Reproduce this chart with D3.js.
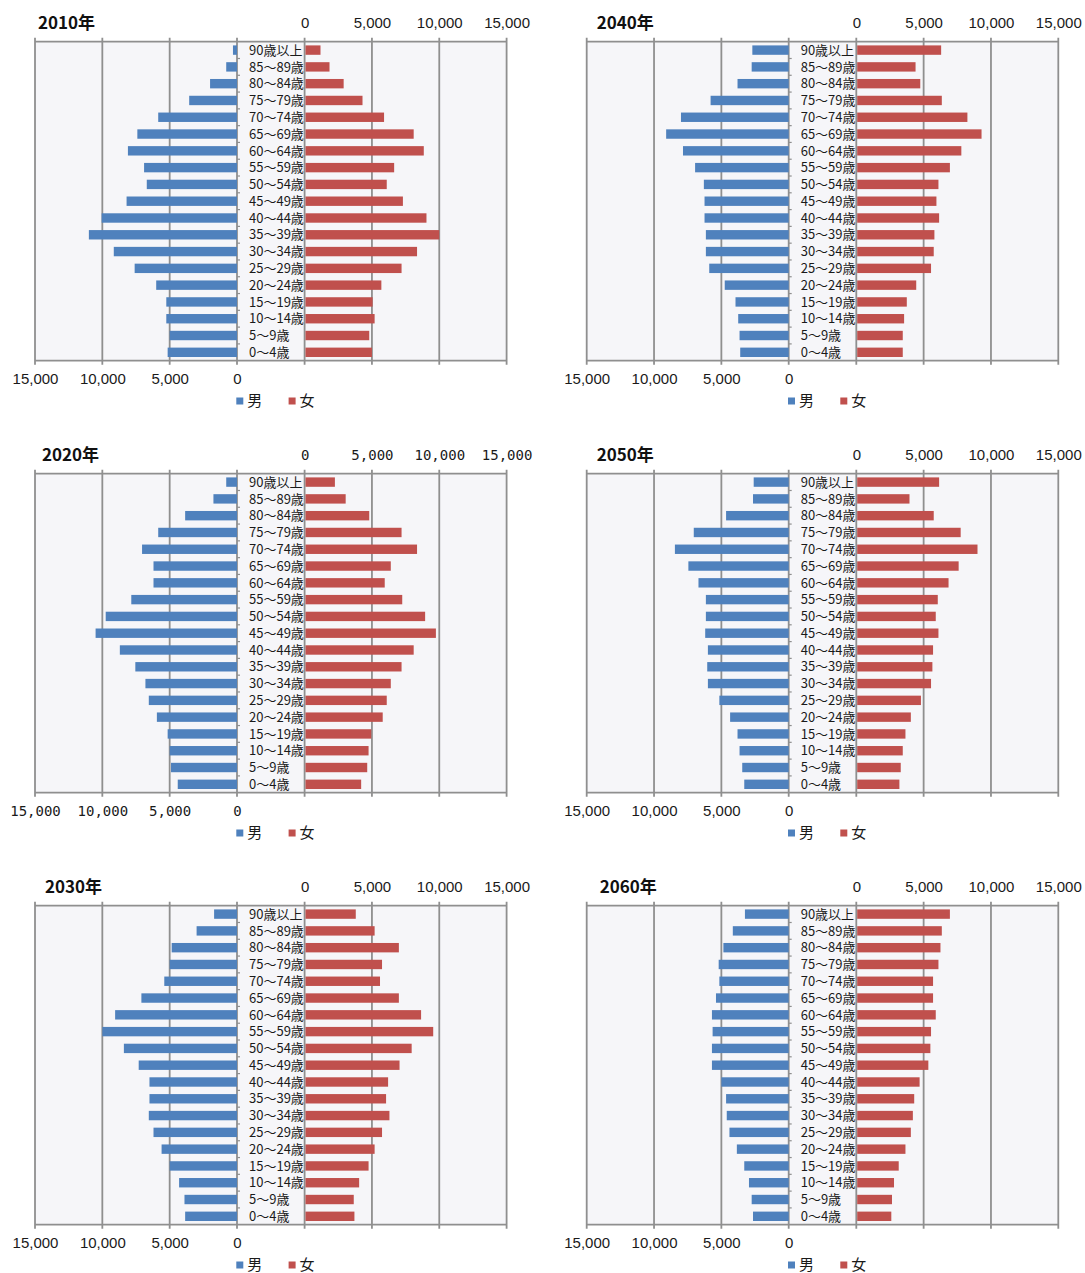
<!DOCTYPE html>
<html>
<head>
<meta charset="utf-8">
<script src="https://cdn.jsdelivr.net/npm/d3@7"></script>
<style>
    body { margin: 0; background: #fff; }
</style>
</head>
<body>
<svg id="chart"></svg>
<script>
let width = 1085
let height = 1273

// age groups, top to bottom
let ages = ["90歳以上", "85～89歳", "80～84歳", "75～79歳", "70～74歳", "65～69歳", "60～64歳",
    "55～59歳", "50～54歳", "45～49歳", "40～44歳", "35～39歳", "30～34歳", "25～29歳",
    "20～24歳", "15～19歳", "10～14歳", "5～9歳", "0～4歳"]

let years = ["2010年", "2020年", "2030年", "2040年", "2050年", "2060年"]
let tickValues = [0, 5000, 10000, 15000]
let legendLabels = ["男", "女"]

let male2010 = [300, 800, 2000, 3550, 5850, 7400, 8100, 6900, 6700, 8200, 10050, 11000, 9150, 7600, 6000, 5250, 5250, 5000, 5150]
let female2010 = [1180, 1850, 2900, 4300, 5900, 8100, 8850, 6650, 6100, 7300, 9050, 10000, 8350, 7200, 5700, 5050, 5200, 4800, 5000]

let male2020 = [800, 1750, 3850, 5850, 7050, 6200, 6200, 7850, 9750, 10500, 8700, 7550, 6800, 6550, 5950, 5150, 5000, 4900, 4400]
let female2020 = [2250, 3050, 4800, 7200, 8350, 6400, 5950, 7250, 8950, 9750, 8100, 7200, 6400, 6100, 5800, 4950, 4750, 4650, 4200]

let male2030 = [1700, 3000, 4850, 5000, 5400, 7100, 9050, 10000, 8400, 7300, 6500, 6500, 6550, 6200, 5600, 5000, 4300, 3900, 3850]
let female2030 = [3800, 5200, 7000, 5750, 5600, 7000, 8650, 9550, 7950, 7050, 6200, 6050, 6300, 5750, 5200, 4750, 4050, 3650, 3700]

let male2040 = [2700, 2750, 3800, 5800, 8000, 9100, 7850, 6950, 6300, 6250, 6250, 6150, 6150, 5900, 4750, 3950, 3750, 3650, 3600]
let female2040 = [6300, 4400, 4750, 6350, 8250, 9300, 7800, 6950, 6100, 5950, 6150, 5800, 5750, 5550, 4450, 3750, 3550, 3450, 3450]

let male2050 = [2600, 2650, 4650, 7050, 8450, 7450, 6700, 6150, 6150, 6200, 6000, 6050, 6000, 5150, 4350, 3800, 3650, 3450, 3300]
let female2050 = [6150, 3950, 5750, 7750, 9000, 7600, 6850, 6050, 5900, 6100, 5700, 5650, 5550, 4800, 4050, 3650, 3450, 3300, 3200]

let male2060 = [3250, 4150, 4850, 5200, 5150, 5400, 5700, 5650, 5700, 5700, 5000, 4650, 4600, 4400, 3850, 3300, 2950, 2750, 2650]
let female2060 = [6950, 6350, 6250, 6100, 5700, 5700, 5900, 5550, 5500, 5350, 4700, 4300, 4200, 4050, 3650, 3150, 2800, 2650, 2600]

let maleSeries = [male2010, male2020, male2030, male2040, male2050, male2060]
let femaleSeries = [female2010, female2020, female2030, female2040, female2050, female2060]

let colors = ["#4f81bd", "#c0504d"]
let gridColor = "#8f8f8f"

let svg = d3.select("#chart")
    .attr("width", width)
    .attr("height", height)

// panel layout
let panelLeft = [35, 586.7]
let panelTop = [41.7, 473.7, 905.7]
let titleDx = [3, 7, 10, 10, 10, 13]
let halfWidth = 202
let gap = 67.6
let plotHeight = 319

function drawPanel(i) {
    let col = i < 3 ? 0 : 1
    let row = i % 3
    let left = panelLeft[col]
    let top = panelTop[row]
    let bottom = top + plotHeight
    let male0 = left + halfWidth
    let female0 = male0 + gap
    let right = female0 + halfWidth
    let tickFont = i == 1 ? "'DejaVu Sans Mono', monospace" : "'Liberation Sans', Arial, sans-serif"
    let tickSize = i == 1 ? "14px" : "15px"

    let xMale = d3.scaleLinear().domain([0, 15000]).range([male0, left])
    let xFemale = d3.scaleLinear().domain([0, 15000]).range([female0, right])
    let y = d3.scaleBand().domain(ages).range([top, bottom]).paddingInner(0.44).paddingOuter(0.22)

    let g = svg.append("g")

    g.append("rect")
        .attr("x", left)
        .attr("y", top)
        .attr("width", right - left)
        .attr("height", plotHeight)
        .attr("fill", "#f6f6f9")

    // vertical grid lines
    let gridX = tickValues.map(v => xMale(v)).concat(tickValues.map(v => xFemale(v)))
    g.append("g")
        .selectAll("line")
        .data(gridX)
        .enter()
        .append("line")
        .attr("x1", d => d)
        .attr("x2", d => d)
        .attr("y1", top - 4)
        .attr("y2", bottom + 4)
        .attr("stroke", gridColor)
        .attr("stroke-width", 1.8)

    // frame top / bottom
    g.append("g")
        .selectAll("line")
        .data([top, bottom])
        .enter()
        .append("line")
        .attr("x1", left)
        .attr("x2", right)
        .attr("y1", d => d)
        .attr("y2", d => d)
        .attr("stroke", gridColor)
        .attr("stroke-width", 1.8)

    // small ticks on the category axis
    let bounds = d3.range(1, ages.length).map(k => top + k * y.step())
    g.append("g")
        .selectAll("line")
        .data(bounds)
        .enter()
        .append("line")
        .attr("x1", male0)
        .attr("x2", male0 + 3)
        .attr("y1", d => d)
        .attr("y2", d => d)
        .attr("stroke", gridColor)
        .attr("stroke-width", 1.2)

    g.append("g")
        .selectAll("rect")
        .data(maleSeries[i])
        .enter()
        .append("rect")
        .attr("x", d => xMale(d))
        .attr("y", (d, k) => y(ages[k]))
        .attr("width", d => male0 - xMale(d))
        .attr("height", y.bandwidth())
        .attr("fill", colors[0])

    g.append("g")
        .selectAll("rect")
        .data(femaleSeries[i])
        .enter()
        .append("rect")
        .attr("x", female0 + 0.9)
        .attr("y", (d, k) => y(ages[k]))
        .attr("width", d => xFemale(d) - female0 - 0.9)
        .attr("height", y.bandwidth())
        .attr("fill", colors[1])

    g.append("g")
        .selectAll("text")
        .data(ages)
        .enter()
        .append("text")
        .attr("x", male0 + 12)
        .attr("y", d => y(d) + y.bandwidth() / 2)
        .attr("dy", "0.36em")
        .attr("font-family", "'Noto Sans CJK JP', sans-serif")
        .attr("font-size", "13px")
        .attr("fill", "#1a1a1a")
        .text(d => d)

    // top axis (female), bottom axis (male)
    let topAxis = g.append("g")
        .attr("transform", "translate(0," + top + ")")
        .call(d3.axisTop(xFemale).tickValues(tickValues).tickSize(0).tickFormat(d3.format(",")))
    let bottomAxis = g.append("g")
        .attr("transform", "translate(0," + bottom + ")")
        .call(d3.axisBottom(xMale).tickValues(tickValues).tickSize(0).tickFormat(d3.format(",")))
    ;[topAxis, bottomAxis].forEach(a => {
        a.select(".domain").remove()
        a.selectAll("text")
            .attr("font-family", tickFont)
            .attr("font-size", tickSize)
            .attr("fill", "#1a1a1a")
            .attr("dy", "0.36em")
    })
    topAxis.selectAll("text").attr("y", -19)
    bottomAxis.selectAll("text").attr("y", 18.3)

    g.append("text")
        .attr("x", left + titleDx[i])
        .attr("y", top - 19)
        .attr("dy", "0.36em")
        .attr("font-family", "'Noto Sans CJK JP', sans-serif")
        .attr("font-weight", "bold")
        .attr("font-size", "17px")
        .attr("fill", "#111")
        .text(years[i])

    // legend
    let legend = g.append("g")
        .selectAll("g")
        .data(legendLabels)
        .enter()
        .append("g")
        .attr("transform", (d, k) => "translate(" + (male0 - 0.7 + k * 52.3) + "," + (bottom + 40.3) + ")")
    legend.append("rect")
        .attr("x", 0)
        .attr("y", -3.5)
        .attr("width", 7)
        .attr("height", 7)
        .attr("fill", (d, k) => colors[k])
    legend.append("text")
        .attr("x", 11)
        .attr("y", 0)
        .attr("dy", "0.36em")
        .attr("font-family", "'Noto Sans CJK JP', sans-serif")
        .attr("font-size", "15px")
        .attr("fill", "#1a1a1a")
        .text(d => d)
}

for (let i = 0; i < years.length; i++) {
    drawPanel(i)
}
</script>
</body>
</html>
